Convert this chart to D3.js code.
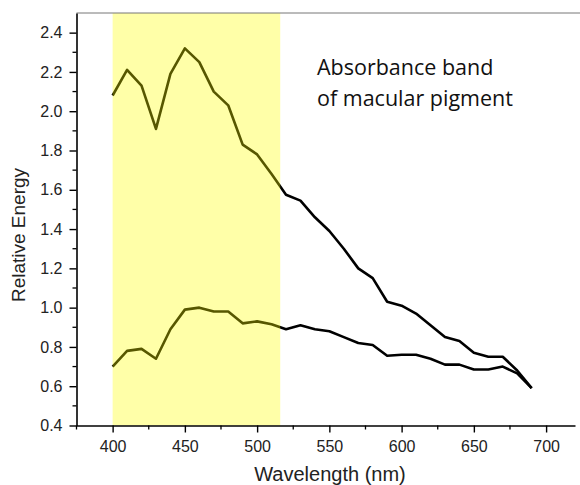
<!DOCTYPE html>
<html>
<head>
<meta charset="utf-8">
<script src="https://d3js.org/d3.v7.min.js"></script>
<style>
 body { margin: 0; background: #fff; }
</style>
</head>
<body>
<div id="chart"></div>
<script>
const wavelengths = [400, 410, 420, 430, 440, 450, 460, 470, 480, 490, 500, 510, 520, 530, 540,
 550, 560, 570, 580, 590, 600, 610, 620, 630, 640, 650, 660, 670, 680, 690];
const upper = [2.08, 2.21, 2.13, 1.91, 2.19, 2.32, 2.25, 2.10, 2.03, 1.83, 1.78, 1.68, 1.575, 1.545, 1.46,
 1.39, 1.30, 1.20, 1.15, 1.03, 1.01, 0.97, 0.91, 0.85, 0.83, 0.77, 0.75, 0.75, 0.68, 0.59];
const lower = [0.70, 0.78, 0.79, 0.74, 0.89, 0.99, 1.00, 0.98, 0.98, 0.92, 0.93, 0.915, 0.89, 0.91, 0.89,
 0.88, 0.85, 0.82, 0.81, 0.755, 0.76, 0.76, 0.74, 0.71, 0.71, 0.685, 0.685, 0.70, 0.665, 0.59];
const band = [400, 516];
const xTicks = [400, 450, 500, 550, 600, 650, 700];
const yTicks = [0.4, 0.6, 0.8, 1.0, 1.2, 1.4, 1.6, 1.8, 2.0, 2.2, 2.4];

const W = 580, H = 485;
const svg = d3.select("#chart").append("svg").attr("width", W).attr("height", H);

const x = d3.scaleLinear().domain([375, 720]).range([76.5, 575]);
const y = d3.scaleLinear().domain([0.4, 2.5]).range([425.5, 13]);

const line = d3.line().x((d) => x(d[0])).y((d) => y(d[1]));

svg.selectAll(".series")
 .data([upper, lower])
 .enter()
 .append("path")
 .attr("d", (s) => line(wavelengths.map((w, i) => [w, s[i]])))
 .attr("fill", "none")
 .attr("stroke", "#000")
 .attr("stroke-width", 2.6)
 .attr("stroke-linejoin", "round");

// yellow band drawn on top, semi transparent
svg.append("rect")
 .attr("x", x(band[0]))
 .attr("y", y(2.5))
 .attr("width", x(band[1]) - x(band[0]))
 .attr("height", y(0.4) - y(2.5))
 .attr("fill", "#ffff00")
 .attr("opacity", 0.34);

// top frame line
svg.append("line")
 .attr("x1", x(375)).attr("x2", 580)
 .attr("y1", y(2.5)).attr("y2", y(2.5))
 .attr("stroke", "#777").attr("stroke-width", 1);

// minor ticks
const xMinor = d3.range(375, 721, 25).filter((v) => v % 50 !== 0);
const yMinor = d3.range(5, 25, 2).map((v) => v / 10);

const xAxis = svg.append("g")
 .attr("transform", `translate(0,${y(0.4)})`)
 .call(d3.axisBottom(x).tickValues(xTicks).tickSize(7).tickPadding(8).tickSizeOuter(0))
 .attr("font-family", "Liberation Sans, Arial, sans-serif")
 .attr("font-size", 16);
xAxis.selectAll(".tick text").attr("fill", "#222");
xAxis.selectAll(".tick line").attr("stroke-width", 1.4);
xAxis.select(".domain").attr("stroke-width", 1.6);
xAxis.selectAll(".minor")
 .data(xMinor)
 .enter()
 .append("line")
 .attr("x1", (d) => x(d)).attr("x2", (d) => x(d))
 .attr("y1", 0).attr("y2", 4)
 .attr("stroke", "#000").attr("stroke-width", 1.3);

const yAxis = svg.append("g")
 .attr("transform", `translate(${x(375)},0)`)
 .call(d3.axisLeft(y).tickValues(yTicks).tickFormat(d3.format(".1f")).tickSize(7).tickPadding(7).tickSizeOuter(0))
 .attr("font-family", "Liberation Sans, Arial, sans-serif")
 .attr("font-size", 16);
yAxis.selectAll(".tick text").attr("fill", "#222");
yAxis.selectAll(".tick line").attr("stroke-width", 1.4);
yAxis.select(".domain").attr("stroke-width", 1.6);
yAxis.selectAll(".minor")
 .data(yMinor)
 .enter()
 .append("line")
 .attr("x1", 0).attr("x2", -4)
 .attr("y1", (d) => y(d)).attr("y2", (d) => y(d))
 .attr("stroke", "#000").attr("stroke-width", 1.3);

svg.append("text")
 .attr("x", 330)
 .attr("y", 481)
 .attr("text-anchor", "middle")
 .attr("font-family", "Liberation Sans, Arial, sans-serif")
 .attr("font-size", 20)
 .attr("fill", "#222")
 .text("Wavelength (nm)");

svg.append("text")
 .attr("transform", "translate(25,235) rotate(-90)")
 .attr("text-anchor", "middle")
 .attr("font-family", "Liberation Sans, Arial, sans-serif")
 .attr("font-size", 19)
 .attr("fill", "#222")
 .text("Relative Energy");

const note = svg.append("text")
 .attr("font-family", "Open Sans, Noto Sans, sans-serif")
 .attr("font-size", 21.5)
 .attr("fill", "#111");
note.append("tspan").attr("x", 317).attr("y", 75).text("Absorbance band");
note.append("tspan").attr("x", 317).attr("y", 106).text("of macular pigment");
</script>
</body>
</html>
